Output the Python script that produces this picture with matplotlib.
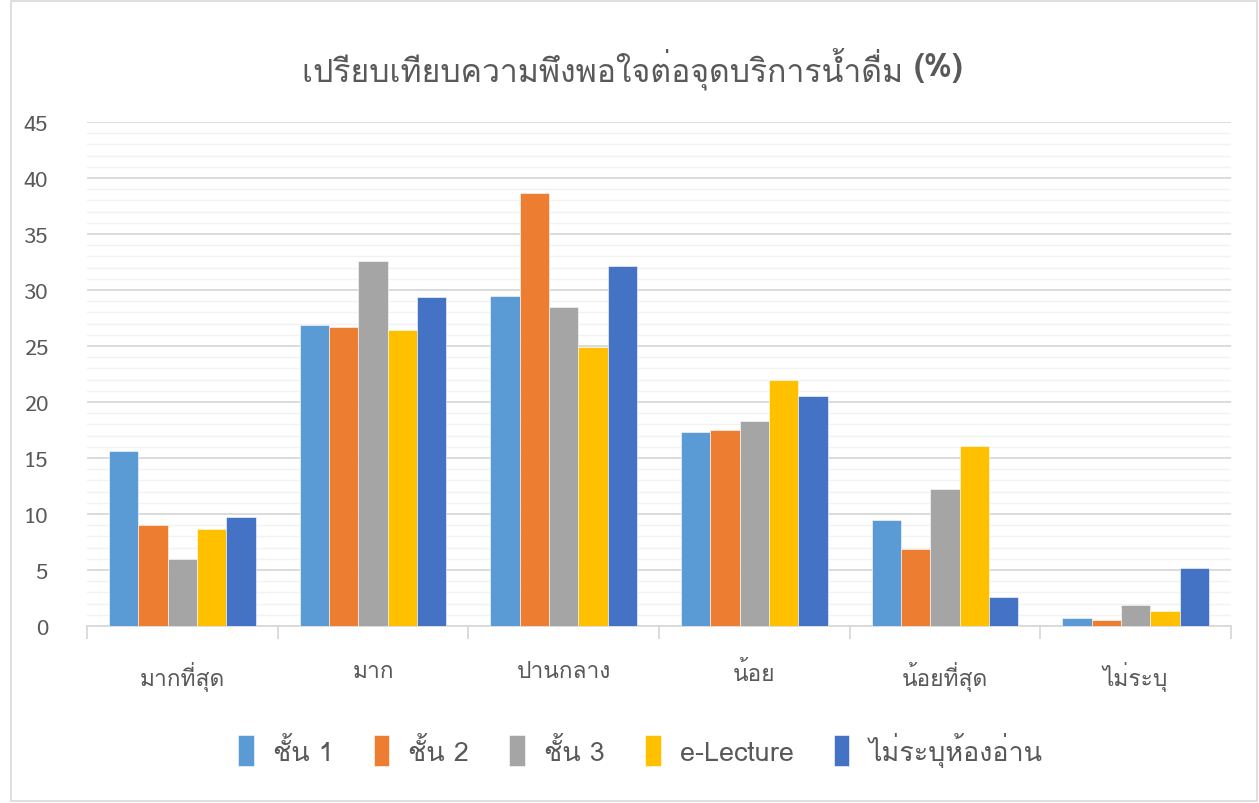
import numpy as np
import matplotlib
matplotlib.use("Agg")
import matplotlib.pyplot as plt
from matplotlib.patches import Rectangle

categories = ["มากที่สุด", "มาก", "ปานกลาง", "น้อย", "น้อยที่สุด", "ไม่ระบุ"]
series_names = ["ชั้น 1", "ชั้น 2", "ชั้น 3", "e-Lecture", "ไม่ระบุห้องอ่าน"]
floor1 = [15.6, 26.9, 29.5, 17.3, 9.5, 0.7]
floor2 = [9.0, 26.7, 38.7, 17.5, 6.9, 0.5]
floor3 = [6.0, 32.6, 28.5, 18.3, 12.2, 1.9]
electure = [8.7, 26.4, 24.9, 22.0, 16.1, 1.3]
unknown = [9.7, 29.4, 32.1, 20.5, 2.6, 5.2]
values = [floor1, floor2, floor3, electure, unknown]
colors = ["#5B9BD5", "#ED7D31", "#A5A5A5", "#FFC000", "#4472C4"]

thai = ["Loma", "DejaVu Sans"]
txt = "#595959"
plt.rcParams["font.family"] = ["Sarabun", "DejaVu Sans"]

fig = plt.figure(figsize=(12.59, 8.04), dpi=100)
ax = fig.add_axes([87 / 1259, 177 / 804, 1144 / 1259, 504 / 804])

x = np.arange(len(categories))
w = 0.154
for i, (vals, name, c) in enumerate(zip(values, series_names, colors)):
    ax.bar(x + (i - 2) * w, vals, w, color=c, label=name,
           edgecolor="white", linewidth=0.4, zorder=3)

ax.set_xlim(-0.5, len(categories) - 0.5)
ax.set_ylim(0, 45)
ax.set_yticks(np.arange(0, 46, 5))
ax.set_yticks(np.arange(0, 46, 1), minor=True)
ax.grid(axis="y", which="major", color="#d9d9d9", linewidth=1.3, zorder=0)
ax.grid(axis="y", which="minor", color="#f2f2f2", linewidth=1.0, zorder=0)
ax.set_xticks(x)
ax.set_xticklabels(categories, family=thai)
ax.set_xticks(np.arange(-0.5, len(categories)), minor=True)
ax.tick_params(axis="x", which="major", length=0, pad=25, labelsize=16.4, labelcolor=txt)
ax.tick_params(axis="x", which="minor", length=9, width=1.3, color="#d9d9d9")
ax.tick_params(axis="y", which="both", length=0, pad=28, labelsize=16, labelcolor=txt)
for s in ["top", "right", "left"]:
    ax.spines[s].set_visible(False)
ax.spines["bottom"].set_color("#d9d9d9")
ax.spines["bottom"].set_linewidth(1.3)

leg = fig.legend(loc="center", bbox_to_anchor=(0.5085, 0.067), ncol=5, frameon=False,
                 prop={"family": thai, "size": 19.4}, handlelength=0.58, handleheight=1.4,
                 handletextpad=0.7, columnspacing=1.5, labelcolor=txt)

# title: regular text followed by bold "(%)"
fig.canvas.draw()
r = fig.canvas.get_renderer()
t1 = fig.text(0, 0.915, "เปรียบเทียบความพึงพอใจต่อจุดบริการน้ำดื่ม ", family=thai, fontsize=23, color=txt, va="center")
t2 = fig.text(0, 0.915, "(%)", fontsize=23, color=txt, va="center", fontweight="bold", family=thai)
w1 = t1.get_window_extent(r).width
w2 = t2.get_window_extent(r).width
x0 = (633 - (w1 + w2) / 2) / 1259
t1.set_x(x0)
t2.set_x(x0 + w1 / 1259)

fig.patches.append(Rectangle((11 / 1259, 2 / 804), 1246 / 1259, 800 / 804, transform=fig.transFigure,
                             fill=False, edgecolor="#d9d9d9", linewidth=1.2))

fig.savefig("out.png", dpi=100)
